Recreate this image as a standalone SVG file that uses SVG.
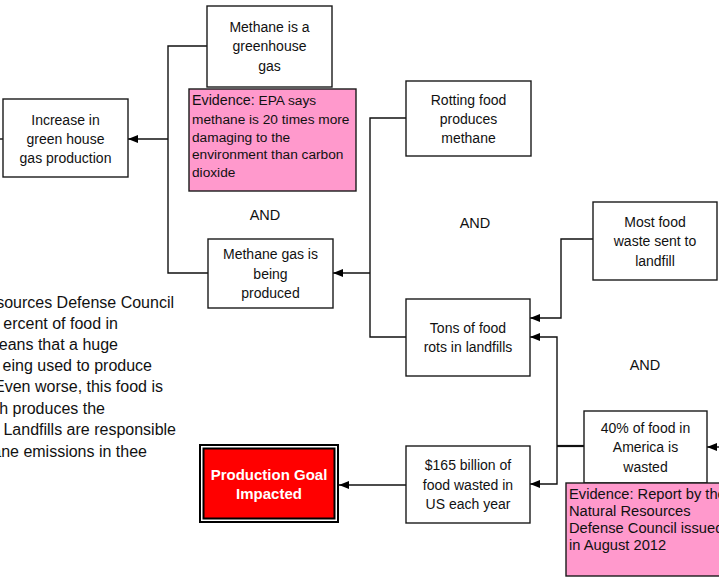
<svg xmlns="http://www.w3.org/2000/svg" width="719" height="577" viewBox="0 0 719 577">
<style>
.box{fill:#fff;stroke:#1a1a1a;stroke-width:1.4}
.ev{fill:#ff99cc;stroke:#1a1a1a;stroke-width:1.4}
.t{font-family:"Liberation Sans",Arial,sans-serif;font-size:14px;fill:#111;text-anchor:middle}
.evt{font-family:"Liberation Sans",Arial,sans-serif;font-size:13.7px;fill:#111}
.ev2t{font-family:"Liberation Sans",Arial,sans-serif;font-size:14.7px;fill:#111}
.p{font-family:"Liberation Sans",Arial,sans-serif;font-size:16px;fill:#111;text-anchor:end}
.and{font-family:"Liberation Sans",Arial,sans-serif;font-size:14.5px;fill:#111;text-anchor:middle}
.c{fill:none;stroke:#111;stroke-width:1.4}
</style>
<defs>
<marker id="ah" markerWidth="10" markerHeight="8" refX="10" refY="4" orient="auto" markerUnits="userSpaceOnUse">
<path d="M0,0 L10,4 L0,8 Z" fill="#000"/>
</marker>
</defs>

<g id="connectors">
<path class="c" d="M0,139 H3"/>
<path class="c" d="M168,139 H128" marker-end="url(#ah)"/>
<path class="c" d="M207,46 H168 V273 H208"/>
<path class="c" d="M406,118 H370 V337 H406"/>
<path class="c" d="M370,273 H333" marker-end="url(#ah)"/>
<path class="c" d="M593,239 H561 V318 H530" marker-end="url(#ah)"/>
<path class="c" d="M557,446 V337 H530" marker-end="url(#ah)"/>
<path class="c" d="M584,446 H557" style="stroke-width:2.2"/>
<path class="c" d="M557,446 V484 H530" marker-end="url(#ah)"/>
<path class="c" d="M406,485 H339" marker-end="url(#ah)"/>
<path class="c" d="M719,447 H707" marker-end="url(#ah)"/>
</g>

<g id="n_increase">
<rect class="box" x="3" y="99" width="125" height="78"/>
<text class="t" x="65.5" y="125">Increase in</text>
<text class="t" x="65.5" y="144">green house</text>
<text class="t" x="65.5" y="163">gas production</text>
</g>

<g id="n_methane_ghg">
<rect class="box" x="207" y="6" width="125" height="81"/>
<text class="t" x="269.5" y="32">Methane is a</text>
<text class="t" x="269.5" y="51">greenhouse</text>
<text class="t" x="269.5" y="71">gas</text>
</g>

<g id="ev_epa">
<rect class="ev" x="189" y="89" width="167" height="102"/>
<text class="evt" x="192" y="105"><tspan font-size="14.3">Evidence:</tspan> EPA says</text>
<text class="evt" x="192" y="124">methane is 20 times more</text>
<text class="evt" x="192" y="142">damaging to the</text>
<text class="evt" x="192" y="159">environment than carbon</text>
<text class="evt" x="192" y="177">dioxide</text>
</g>

<g id="n_methane_prod">
<rect class="box" x="208" y="239" width="125" height="69"/>
<text class="t" x="270.5" y="259">Methane gas is</text>
<text class="t" x="270.5" y="279">being</text>
<text class="t" x="270.5" y="298">produced</text>
</g>

<g id="n_rotting">
<rect class="box" x="406" y="81" width="125" height="75"/>
<text class="t" x="468.5" y="105">Rotting food</text>
<text class="t" x="468.5" y="124">produces</text>
<text class="t" x="468.5" y="143">methane</text>
</g>

<g id="n_tons">
<rect class="box" x="406" y="299" width="124" height="77"/>
<text class="t" x="468" y="333">Tons of food</text>
<text class="t" x="468" y="352">rots in landfills</text>
</g>

<g id="n_most">
<rect class="box" x="593" y="202" width="124" height="78"/>
<text class="t" x="655" y="227">Most food</text>
<text class="t" x="655" y="246">waste sent to</text>
<text class="t" x="655" y="266">landfill</text>
</g>

<g id="n_40">
<rect class="box" x="584" y="411" width="123" height="72"/>
<text class="t" x="645.5" y="433">40% of food in</text>
<text class="t" x="645.5" y="452">America is</text>
<text class="t" x="645.5" y="472">wasted</text>
</g>

<g id="ev_nrdc">
<rect class="ev" x="566" y="483" width="160" height="93"/>
<text class="ev2t" x="569" y="499">Evidence: Report by the</text>
<text class="ev2t" x="569" y="516">Natural Resources</text>
<text class="ev2t" x="569" y="533">Defense Council issued</text>
<text class="ev2t" x="569" y="550">in August 2012</text>
</g>

<g id="n_165">
<rect class="box" x="406" y="446" width="124" height="77"/>
<text class="t" x="468" y="470">$165 billion of</text>
<text class="t" x="468" y="490">food wasted in</text>
<text class="t" x="468" y="509">US each year</text>
</g>

<g id="n_goal">
<rect x="200" y="445" width="138" height="77" fill="#fff" stroke="#000" stroke-width="2"/>
<rect x="203.5" y="448.5" width="131" height="70" fill="#ff0000" stroke="#000" stroke-width="2"/>
<text x="269" y="480" font-family="'Liberation Sans',Arial,sans-serif" font-size="15" font-weight="bold" fill="#fff" text-anchor="middle">Production Goal</text>
<text x="269" y="499" font-family="'Liberation Sans',Arial,sans-serif" font-size="15" font-weight="bold" fill="#fff" text-anchor="middle">Impacted</text>
</g>

<g id="and_labels">
<text class="and" x="265" y="220">AND</text>
<text class="and" x="475" y="228">AND</text>
<text class="and" x="645" y="370">AND</text>
</g>

<g id="paragraph">
<text class="p" x="174" y="308">sources Defense Council</text>
<text class="p" x="118" y="329">ercent of food in</text>
<text class="p" x="118" y="350">eans that a huge</text>
<text class="p" x="152" y="371">eing used to produce</text>
<text class="p" x="163" y="392">Even worse, this food is</text>
<text class="p" x="105" y="414">h produces the</text>
<text class="p" x="176" y="435">Landfills are responsible</text>
<text class="p" x="147" y="457">ane emissions in thee</text>
</g>
</svg>
